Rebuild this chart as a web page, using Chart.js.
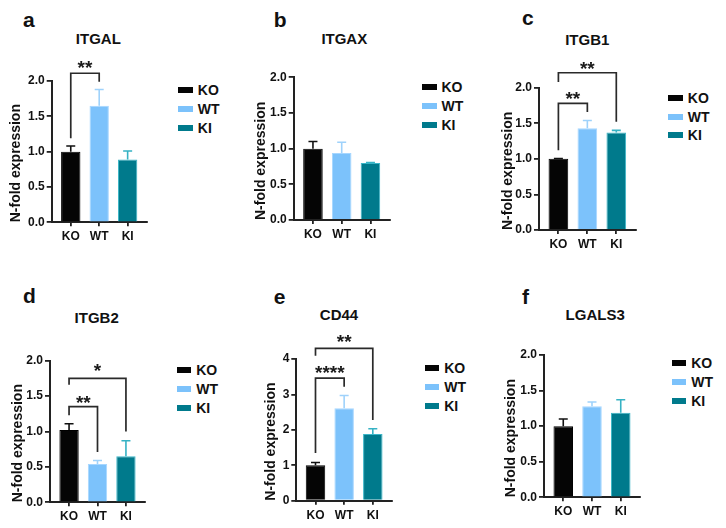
<!DOCTYPE html>
<html><head><meta charset="utf-8">
<script src="https://cdn.jsdelivr.net/npm/chart.js@4"></script>
<style>
html,body{margin:0;padding:0;background:#fff;}
body{width:726px;height:528px;position:relative;overflow:hidden;font-family:"Liberation Sans",Arial,sans-serif;font-weight:bold;color:#111;}
canvas{position:absolute;}
.t{position:absolute;white-space:nowrap;}
.sq{position:absolute;}
</style></head><body>
<script>
// ---- data ----
const groups = ['KO', 'WT', 'KI'];
const genes = ['ITGAL', 'ITGAX', 'ITGB1', 'ITGB2', 'CD44', 'LGALS3'];
const panelLetters = ['a', 'b', 'c', 'd', 'e', 'f'];
const yAxisTitle = 'N-fold expression';

const itgalMean  = [1.00, 1.65, 0.89];  const itgalSD  = [0.08, 0.23, 0.12];
const itgaxMean  = [1.00, 0.94, 0.80];  const itgaxSD  = [0.10, 0.15, 0.005];
const itgb1Mean  = [1.00, 1.43, 1.37];  const itgb1SD  = [0.005, 0.11, 0.03];
const itgb2Mean  = [1.02, 0.54, 0.65];  const itgb2SD  = [0.09, 0.05, 0.22];
const cd44Mean   = [1.00, 2.61, 1.88];  const cd44SD   = [0.08, 0.36, 0.15];
const lgals3Mean = [1.00, 1.28, 1.19];  const lgals3SD = [0.10, 0.06, 0.18];

const yTicks2 = [0, 0.5, 1, 1.5, 2];  const yTickLabels2 = ['0.0', '0.5', '1.0', '1.5', '2.0'];
const yTicks4 = [0, 1, 2, 3, 4];      const yTickLabels4 = ['0', '1', '2', '3', '4'];

// significance brackets: [from group, to group, top value, from-end value, to-end value, label, label value]
const itgalSig  = [[0, 1, 2.11, 1.19, 1.99, '**', 2.25]];
const itgaxSig  = [];
const itgb1Sig  = [[0, 1, 1.78, 1.12, 1.66, '**', 1.92], [0, 2, 2.21, 2.08, 1.52, '**', 2.34]];
const itgb2Sig  = [[0, 1, 1.35, 1.23, 0.71, '**', 1.47], [0, 2, 1.75, 1.66, 1.00, '*', 1.92]];
const cd44Sig   = [[0, 1, 3.46, 1.35, 3.22, '****', 3.74], [0, 2, 4.30, 4.09, 2.28, '**', 4.62]];
const lgals3Sig = [];

// ---- styles / layout ----
const FONT = "'Liberation Sans', Arial, sans-serif";
const AXIS = '#222';
const barColors = ['#050505', '#7cc2fb', '#007a8c'];
const barBorders = ['#000000', '#a6d6ff', '#3ab6c8'];
const errColors = ['#111111', '#9fd2fb', '#36b2c4'];

const boxes = [
  {ox:0,   oy:0,   axisX:51.7,  top:81,    right:146.7, zero:222.3, titleX:98.3,  titleY:38.3,  yTitleX:15.8,  letterX:23,    letterBase:27,    legX:178.3, legY:90},
  {ox:242, oy:0,   axisX:293.7, top:77.3,  right:389.7, zero:220,   titleX:344.3, titleY:38.3,  yTitleX:261.5, letterX:273.7, letterBase:26.7,  legX:422,   legY:87.3},
  {ox:484, oy:0,   axisX:539,   top:87.7,  right:635.7, zero:230,   titleX:587.3, titleY:39.3,  yTitleX:508.2, letterX:522,   letterBase:25,    legX:668.3, legY:97.7},
  {ox:0,   oy:264, axisX:50,    top:360.7, right:145,   zero:502.3, titleX:96.7,  titleY:317.3, yTitleX:17.8,  letterX:23,    letterBase:302.3, legX:176.7, legY:370},
  {ox:242, oy:264, axisX:296.3, top:359,   right:392,   zero:500.7, titleX:339,   titleY:314,   yTitleX:271.2, letterX:273.7, letterBase:304,   legX:424.7, legY:368.3},
  {ox:484, oy:264, axisX:544,   top:355,   right:640,   zero:497.3, titleX:595.2, titleY:314,   yTitleX:511.5, letterX:522,   letterBase:304,   legX:671.7, legY:363.3}
];

function addText(txt, x, y, size, css) {
  const d = document.createElement('div');
  d.className = 't';
  d.textContent = txt;
  d.style.left = x + 'px';
  d.style.top = y + 'px';
  d.style.fontSize = size + 'px';
  d.style.lineHeight = size + 'px';
  if (css) d.style.cssText += css;
  document.body.appendChild(d);
  return d;
}

function makePanel(idx, means, sds, yMax, yTicks, yLabels, sig) {
  const L = boxes[idx];
  addText(panelLetters[idx], L.letterX, L.letterBase - 17.8, 21);
  addText(genes[idx], L.titleX, L.titleY, 15, 'transform:translate(-50%,-50%);');
  groups.forEach((g, i) => {
    const cy = L.legY + i * 18.8;
    const s = document.createElement('div');
    s.className = 'sq';
    s.style.cssText = `left:${L.legX}px;top:${cy - 3}px;width:14.5px;height:6px;background:${barColors[i]};`;
    document.body.appendChild(s);
    addText(g, L.legX + 19.5, cy, 14, 'transform:translateY(-50%);');
  });

  const cv = document.createElement('canvas');
  cv.width = 242; cv.height = 264;
  cv.style.left = L.ox + 'px'; cv.style.top = L.oy + 'px';
  document.body.appendChild(cv);

  const annot = {
    id: 'annot' + idx,
    afterDatasetsDraw(chart) {
      const ctx = chart.ctx, xs = chart.scales.x, ys = chart.scales.y;
      const meta = chart.getDatasetMeta(0);
      ctx.save();
      ctx.lineWidth = 1.6;
      meta.data.forEach((el, i) => {
        const yTop = ys.getPixelForValue(means[i] + sds[i]);
        ctx.strokeStyle = errColors[i];
        ctx.beginPath();
        ctx.moveTo(el.x, el.y); ctx.lineTo(el.x, yTop);
        ctx.moveTo(el.x - 4.5, yTop); ctx.lineTo(el.x + 4.5, yTop);
        ctx.stroke();
      });
      ctx.strokeStyle = '#2a2a2a';
      ctx.lineWidth = 1.7;
      ctx.fillStyle = '#1a1a1a';
      ctx.font = 'bold 19px ' + FONT;
      ctx.textAlign = 'center';
      ctx.textBaseline = 'alphabetic';
      sig.forEach(b => {
        const x0 = xs.getPixelForValue(b[0]), x1 = xs.getPixelForValue(b[1]);
        const yT = ys.getPixelForValue(b[2]), y0 = ys.getPixelForValue(b[3]), y1 = ys.getPixelForValue(b[4]);
        ctx.beginPath();
        ctx.moveTo(x0, y0); ctx.lineTo(x0, yT); ctx.lineTo(x1, yT); ctx.lineTo(x1, y1);
        ctx.stroke();
        ctx.fillText(b[5], (x0 + x1) / 2, ys.getPixelForValue(b[6]) + 0.585 * 19);
      });
      ctx.restore();
    }
  };

  const tickFont = {family: FONT, size: 12, weight: 'bold'};
  new Chart(cv, {
    type: 'bar',
    data: {
      datasets: [{
        data: means.map((m, i) => ({x: i, y: m})),
        backgroundColor: barColors,
        borderColor: barBorders,
        borderWidth: 1,
        barPercentage: 0.68,
        categoryPercentage: 1
      }]
    },
    options: {
      responsive: false,
      animation: false,
      devicePixelRatio: 1,
      layout: {padding: {left: 0, top: L.top - L.oy, right: 242 - (L.right - L.ox), bottom: 0}},
      plugins: {legend: {display: false}, tooltip: {enabled: false}},
      scales: {
        x: {
          type: 'linear', min: -0.67, max: 2.67, bounds: 'data', offset: false,
          afterFit(s) { s.height = 264 - (L.zero - L.oy); },
          afterBuildTicks(s) { s.ticks = groups.map((g, i) => ({value: i})); },
          grid: {display: true, drawOnChartArea: false, drawTicks: true, tickLength: 4, color: AXIS, lineWidth: 1.8, offset: false},
          border: {display: true, color: AXIS, width: 2},
          ticks: {callback: (v) => groups[v], color: '#111', font: tickFont, padding: 3.5, maxRotation: 0, autoSkip: false}
        },
        y: {
          type: 'linear', min: 0, max: yMax, bounds: 'data',
          afterFit(s) { s.width = L.axisX - L.ox; },
          afterBuildTicks(s) { s.ticks = yTicks.map(v => ({value: v})); },
          grid: {display: true, drawOnChartArea: false, drawTicks: true, tickLength: 5, color: AXIS, lineWidth: 1.8},
          border: {display: true, color: AXIS, width: 2},
          ticks: {callback: (v) => yLabels[yTicks.indexOf(v)], color: '#111', font: tickFont, padding: 2, autoSkip: false},
          title: {display: true, text: yAxisTitle, align: 'start', color: '#111',
                  font: {family: FONT, size: 14, weight: 'bold'},
                  padding: {top: (L.yTitleX - L.ox) - 14 * 1.2 / 2, bottom: 0}}
        }
      }
    },
    plugins: [annot]
  });
}

makePanel(0, itgalMean,  itgalSD,  2, yTicks2, yTickLabels2, itgalSig);
makePanel(1, itgaxMean,  itgaxSD,  2, yTicks2, yTickLabels2, itgaxSig);
makePanel(2, itgb1Mean,  itgb1SD,  2, yTicks2, yTickLabels2, itgb1Sig);
makePanel(3, itgb2Mean,  itgb2SD,  2, yTicks2, yTickLabels2, itgb2Sig);
makePanel(4, cd44Mean,   cd44SD,   4, yTicks4, yTickLabels4, cd44Sig);
makePanel(5, lgals3Mean, lgals3SD, 2, yTicks2, yTickLabels2, lgals3Sig);
</script>
</body></html>
